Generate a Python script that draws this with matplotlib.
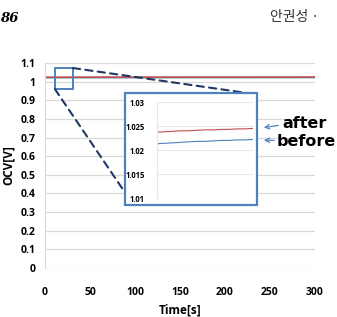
import matplotlib
matplotlib.use("Agg")
import matplotlib.pyplot as plt
from matplotlib.patches import Rectangle, ConnectionPatch, FancyArrowPatch

plt.rcParams['font.family'] = ['Open Sans', 'DejaVu Sans']

# ---- data ----
time_s = [0, 25, 50, 75, 100, 125, 150, 175, 200, 225, 250, 275, 300]
ocv_after = [1.0237, 1.0238, 1.0239, 1.0240, 1.0240, 1.0241, 1.0242, 1.0242, 1.0243, 1.0243, 1.0244, 1.0244, 1.0245]
ocv_before = [1.0213, 1.0214, 1.0215, 1.0216, 1.0217, 1.0218, 1.0218, 1.0219, 1.0220, 1.0220, 1.0221, 1.0221, 1.0222]
x_ticks = [0, 50, 100, 150, 200, 250, 300]
y_ticks = [0, 0.1, 0.2, 0.3, 0.4, 0.5, 0.6, 0.7, 0.8, 0.9, 1.0, 1.1]
y_tick_labels = ['0', '0.1', '0.2', '0.3', '0.4', '0.5', '0.6', '0.7', '0.8', '0.9', '1', '1.1']
inset_ticks = [1.01, 1.015, 1.02, 1.025, 1.03]
inset_tick_labels = ['1.01', '1.015', '1.02', '1.025', '1.03']
zoom_x = (11, 31)
zoom_y = (0.96, 1.073)

W, H = 337, 317
fig = plt.figure(figsize=(W / 100, H / 100), dpi=100)
fig.patch.set_facecolor('white')

RED = '#c0504d'
BLUE = '#4f81bd'
GRID = '#d9d9d9'
NAVY = '#1f3864'

# header
fig.text(0.0, 1 - 18 / H, '86', fontsize=9.5, fontweight='bold', fontstyle='italic',
         family=['DejaVu Serif'], va='center', ha='left')
fig.text(270 / W, 1 - 17 / H, '안권성 ·', fontsize=10, family=['Noto Sans CJK KR', 'DejaVu Sans'],
         va='center', ha='left', color='#333333')

# main axes
ax = fig.add_axes([45 / W, 1 - 268 / H, (315 - 45) / W, (268 - 63) / H])
ax.plot(time_s, ocv_before, color=BLUE, lw=1.2)
ax.plot(time_s, ocv_after, color=RED, lw=1.2)
ax.set_xlim(0, 300)
ax.set_ylim(0, 1.1)
ax.set_xticks(x_ticks)
ax.set_yticks(y_ticks)
ax.set_yticklabels(y_tick_labels)
ax.grid(axis='y', color=GRID, lw=0.9)
ax.set_axisbelow(True)
for s in ['top', 'right', 'bottom']:
    ax.spines[s].set_visible(False)
ax.spines['left'].set_color(GRID)
ax.tick_params(length=0, labelsize=7.5)
ax.tick_params(axis='x', pad=14)
ax.tick_params(axis='y', pad=7)
for lab in ax.get_xticklabels() + ax.get_yticklabels():
    lab.set_fontweight('bold')
ax.set_xlabel('Time[s]', fontsize=8.5, fontweight='bold', labelpad=4)
ax.set_ylabel('OCV[V]', fontsize=8.5, fontweight='bold', labelpad=4)

# zoom box on main axes
ax.add_patch(Rectangle((zoom_x[0], zoom_y[0]), zoom_x[1] - zoom_x[0], zoom_y[1] - zoom_y[0],
                       fill=False, edgecolor=BLUE, lw=1.4, zorder=5))

# inset frame
frame = Rectangle((125 / W, 1 - 205 / H), (257 - 125) / W, (205 - 93) / H,
                  transform=fig.transFigure, facecolor='white', edgecolor=BLUE, lw=1.6, zorder=3)
fig.patches.append(frame)

# inset axes
axi = fig.add_axes([157 / W, 1 - 198 / H, (253 - 157) / W, (198 - 102) / H])
axi.set_zorder(4)
axi.plot(time_s, ocv_before, color=BLUE, lw=0.8)
axi.plot(time_s, ocv_after, color=RED, lw=0.8)
axi.set_xlim(0, 300)
axi.set_ylim(1.01, 1.03)
axi.set_yticks(inset_ticks)
axi.set_yticklabels(inset_tick_labels)
axi.set_xticks([])
axi.grid(axis='y', color='#e6e6e6', lw=0.7)
axi.set_axisbelow(True)
for s in ['top', 'right', 'bottom']:
    axi.spines[s].set_visible(False)
axi.spines['left'].set_color('#e6e6e6')
axi.tick_params(length=0, labelsize=5.5, pad=9)
for lab in axi.get_yticklabels():
    lab.set_fontweight('bold')

# dashed connectors
c1 = ConnectionPatch(xyA=(zoom_x[1], zoom_y[1]), coordsA=ax.transData,
                     xyB=(247 / W, 1 - 93 / H), coordsB=fig.transFigure,
                     color=NAVY, lw=1.5, linestyle=(0, (3.5, 2.5)), zorder=2)
c2 = ConnectionPatch(xyA=(zoom_x[0], zoom_y[0]), coordsA=ax.transData,
                     xyB=(124 / W, 1 - 191 / H), coordsB=fig.transFigure,
                     color=NAVY, lw=1.5, linestyle=(0, (3.5, 2.5)), zorder=2)
fig.add_artist(c1)
fig.add_artist(c2)

# annotations
fig.text(282 / W, 1 - 124 / H, 'after', fontsize=11.5, fontweight='bold', va='center', ha='left',
         family=['DejaVu Sans'])
fig.text(277 / W, 1 - 142 / H, 'before', fontsize=11.5, fontweight='bold', va='center', ha='left',
         family=['DejaVu Sans'])
fig.add_artist(FancyArrowPatch((281 / W, 1 - 125 / H), (261 / W, 1 - 128 / H),
               transform=fig.transFigure, arrowstyle='->', mutation_scale=8, color=BLUE, lw=0.9))
fig.add_artist(FancyArrowPatch((277 / W, 1 - 140.5 / H), (261 / W, 1 - 140 / H),
               transform=fig.transFigure, arrowstyle='->', mutation_scale=8, color=BLUE, lw=0.9))

fig.savefig('out.png', dpi=100)
